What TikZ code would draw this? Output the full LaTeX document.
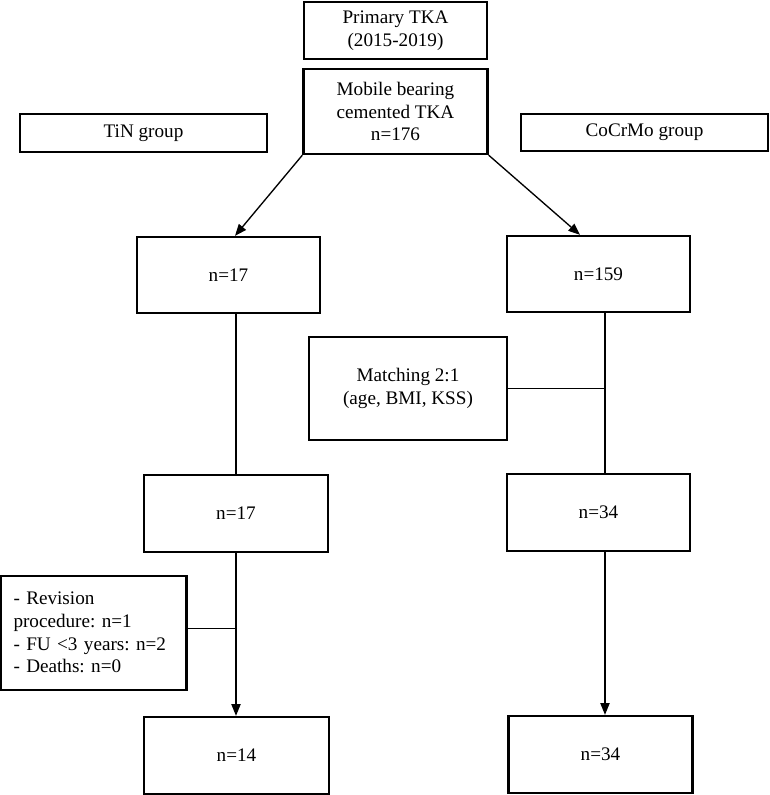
\documentclass[tikz,border=0pt]{standalone}
\usepackage{fontspec}
\setmainfont{Liberation Serif}
\usepackage{tikz}
\usetikzlibrary{arrows.meta}
\usetikzlibrary{positioning}
\usetikzlibrary{calc}
\frenchspacing

\begin{document}
\begin{tikzpicture}[auto, on grid, font = \fontsize{11.5}{13.6}\selectfont,
	box/.style = {rectangle, draw, line width = 1.4pt, align = center, inner sep = 2pt},
	link/.style = {line width = 0.8pt},
	side/.style = {line width = 0.6pt},
	arrow/.style = {line width = 0.8pt, -{Triangle[length = 7pt, width = 5.5pt]}}]
	\useasboundingbox (0pt,0pt) rectangle (461.4pt,-477pt);
	\node[box, minimum width = 109.8pt, minimum height = 34.2pt] (primary) at (237.3pt,-18.3pt) {Primary TKA\\(2015-2019)};
	\node[box, minimum width = 110.4pt, minimum height = 51pt] (mobile) [below = 48.6pt of primary] {Mobile bearing\\cemented TKA\\n=176};
	\node[box, minimum width = 148.2pt, minimum height = 22.8pt] (tin) [left = 151.2pt of mobile, yshift = -12.9pt] {TiN group};
	\node[box, minimum width = 148.2pt, minimum height = 22.2pt] (cocrmo) [right = 149.4pt of mobile, yshift = -12.6pt] {CoCrMo group};
	\node[box, minimum width = 109.8pt, minimum height = 45.6pt] (tinstart) [below = 85.2pt of tin, xshift = 51pt] {n=17};
	\node[box, minimum width = 109.8pt, minimum height = 45.6pt] (costart) [below = 84.9pt of cocrmo, xshift = -27.6pt] {n=159};
	\node[box, minimum width = 118.8pt, minimum height = 61.8pt] (matching) [below left = 68.7pt and 114.3pt of costart] {Matching 2:1\\(age, BMI, KSS)};
	\node[box, minimum width = 110.4pt, minimum height = 46.2pt] (tinmid) [below = 143.1pt of tinstart, xshift = 4.5pt] {n=17};
	\node[box, minimum width = 109.8pt, minimum height = 46.2pt] (comid) [below = 143.1pt of costart] {n=34};
	\node[box, minimum width = 111.6pt, minimum height = 68.4pt, align = left, text width = 96pt, inner xsep = 7.8pt] (excluded) [below left = 73.5pt and 85.5pt of tinmid, yshift = 2pt] {- Revision\\procedure: n=1\\- FU <3 years: n=2\\- Deaths: n=0};
	\node[box, minimum width = 111pt, minimum height = 46.2pt] (tinend) [below = 145.2pt of tinmid, xshift = 0.3pt] {n=14};
	\node[box, minimum width = 110.4pt, minimum height = 46.2pt] (coend) [below = 145.2pt of comid, xshift = 1.2pt] {n=34};
	\coordinate (cotrunk) at ([xshift = 3.9pt]costart.south);
	\draw[arrow] (mobile.south west) -- ([xshift = 3.9pt]tinstart.north);
	\draw[arrow] (mobile.south east) -- ([xshift = -11.1pt]costart.north);
	\draw[link] (tinmid.north) -- (tinmid.north |- tinstart.south);
	\draw[link] (cotrunk) -- (cotrunk |- comid.north);
	\draw[side] (matching.east) -- (matching.east -| cotrunk);
	\draw[arrow] (tinmid.south) -- (tinmid.south |- tinend.north);
	\draw[side] ([yshift = 2.4pt]excluded.east) -- ([yshift = 2.4pt]excluded.east -| tinmid.south);
	\draw[arrow] (comid.south -| cotrunk) -- (cotrunk |- coend.north);
\end{tikzpicture}
\end{document}
